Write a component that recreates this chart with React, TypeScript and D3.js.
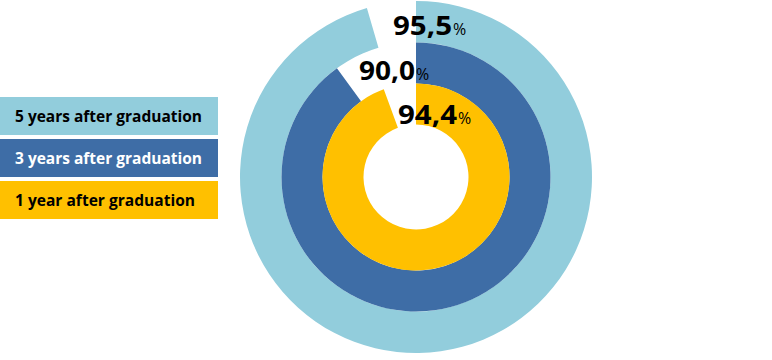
import React from "react";
import * as d3 from "d3";

const series = ["5 years after graduation", "3 years after graduation", "1 year after graduation"];
const values = [95.5, 90.0, 94.4];
const labels = ["95,5", "90,0", "94,4"];
const colors = ["#92CDDC", "#3E6DA6", "#FFC000"];
const legendTextColors = ["#000000", "#FFFFFF", "#000000"];

export default function App() {
  const cx = 416, cy = 177;
  const radii = [176, 134.5, 93.5, 52.5];
  const angle = d3.scaleLinear().domain([0, 100]).range([0, 2 * Math.PI]);
  const labelPos = [
    { x: 393, y: 35, w: 59 },
    { x: 359, y: 80, w: 56 },
    { x: 398, y: 124, w: 59 },
  ];
  return (
    <svg width={772} height={360} style={{ position: "absolute", left: 0, top: 0 }} fontFamily="'Open Sans', sans-serif">
      <g transform={`translate(${cx},${cy})`}>
        {values.map((v, i) => {
          const arc = d3.arc()({
            innerRadius: radii[i + 1],
            outerRadius: radii[i],
            startAngle: 0,
            endAngle: angle(v),
          } as any) as string;
          return <path key={i} d={arc} fill={colors[i]} />;
        })}
      </g>
      {labels.map((t, i) => (
        <g key={i}>
          <text x={labelPos[i].x} y={labelPos[i].y} fontSize={27} fontWeight="bold" fill="#000" textLength={labelPos[i].w} lengthAdjust="spacingAndGlyphs">{t}</text>
          <text x={labelPos[i].x + labelPos[i].w + 1} y={labelPos[i].y} fontSize={16} fill="#000">%</text>
        </g>
      ))}
      {series.map((s, i) => {
        const y0 = [97, 139, 181][i];
        return (
          <g key={s}>
            <rect x={0} y={y0} width={218} height={38} fill={colors[i]} />
            <text x={15} y={y0 + 25} fontSize={16} fontWeight="bold" fill={legendTextColors[i]} textLength={[187, 187, 180][i]} lengthAdjust="spacingAndGlyphs">{s}</text>
          </g>
        );
      })}
    </svg>
  );
}
